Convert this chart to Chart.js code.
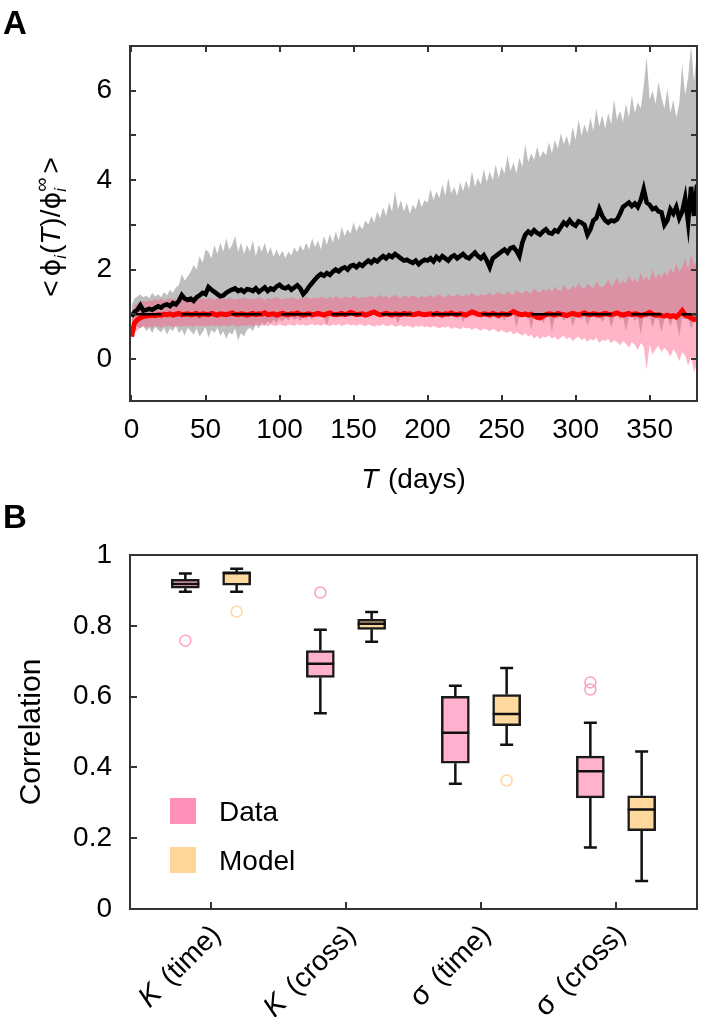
<!DOCTYPE html>
<html>
<head>
<meta charset="utf-8">
<script src="https://cdn.jsdelivr.net/npm/chart.js@4.4.1/dist/chart.umd.min.js"></script>
<style>
    html, body { margin: 0; padding: 0; background: #fff; }
    #wrap { position: relative; width: 704px; height: 1017px; overflow: hidden; }
    canvas { position: absolute; left: 0; }
    #chartA { top: 0; }
    #chartB { top: 500px; }
    .panel { position: absolute; left: 3px; font: bold 33px 'Liberation Sans', Arial, sans-serif; line-height: 33px; }
</style>
</head>
<body>
<div id="wrap">
    <canvas id="chartA" width="704" height="500"></canvas>
    <canvas id="chartB" width="704" height="517"></canvas>
    <div class="panel" style="top:6px">A</div>
    <div class="panel" style="top:500px">B</div>
</div>
<script>
'use strict';

// ---- Panel A data (sampled every 2 days) ----
const days = [
    0, 2, 4, 6, 8, 10, 12, 14, 16, 18, 20, 22, 24, 26, 28, 30, 32, 34, 36, 38,
    40, 42, 44, 46, 48, 50, 52, 54, 56, 58, 60, 62, 64, 66, 68, 70, 72, 74, 76, 78,
    80, 82, 84, 86, 88, 90, 92, 94, 96, 98, 100, 102, 104, 106, 108, 110, 112, 114, 116, 118,
    120, 122, 124, 126, 128, 130, 132, 134, 136, 138, 140, 142, 144, 146, 148, 150, 152, 154, 156, 158,
    160, 162, 164, 166, 168, 170, 172, 174, 176, 178, 180, 182, 184, 186, 188, 190, 192, 194, 196, 198,
    200, 202, 204, 206, 208, 210, 212, 214, 216, 218, 220, 222, 224, 226, 228, 230, 232, 234, 236, 238,
    240, 242, 244, 246, 248, 250, 252, 254, 256, 258, 260, 262, 264, 266, 268, 270, 272, 274, 276, 278,
    280, 282, 284, 286, 288, 290, 292, 294, 296, 298, 300, 302, 304, 306, 308, 310, 312, 314, 316, 318,
    320, 322, 324, 326, 328, 330, 332, 334, 336, 338, 340, 342, 344, 346, 348, 350, 352, 354, 356, 358,
    360, 362, 364, 366, 368, 370, 372, 374, 376, 378, 380, 382
];
const blackMean = [
    0.95, 1.05, 1.10, 1.20, 1.08, 1.10, 1.12, 1.10, 1.14, 1.18, 1.15, 1.20, 1.22, 1.18, 1.25, 1.22, 1.30, 1.43, 1.35, 1.32,
    1.35, 1.30, 1.38, 1.42, 1.48, 1.45, 1.61, 1.55, 1.50, 1.45, 1.40, 1.42, 1.48, 1.52, 1.55, 1.58, 1.52, 1.55, 1.50, 1.56,
    1.55, 1.52, 1.58, 1.50, 1.55, 1.60, 1.52, 1.58, 1.55, 1.62, 1.66, 1.60, 1.58, 1.62, 1.55, 1.60, 1.65, 1.58, 1.45, 1.52,
    1.62, 1.70, 1.78, 1.85, 1.90, 1.86, 1.92, 1.88, 1.95, 2.00, 1.96, 2.02, 2.05, 2.00, 2.08, 2.10, 2.05, 2.12, 2.08, 2.15,
    2.20, 2.15, 2.22, 2.18, 2.25, 2.30, 2.25, 2.32, 2.28, 2.35, 2.30, 2.25, 2.20, 2.22, 2.18, 2.15, 2.20, 2.12, 2.18, 2.22,
    2.20, 2.25, 2.18, 2.28, 2.22, 2.30, 2.25, 2.20, 2.28, 2.32, 2.25, 2.30, 2.35, 2.28, 2.25, 2.32, 2.38, 2.30, 2.25, 2.32,
    2.20, 2.05, 2.25, 2.30, 2.35, 2.40, 2.45, 2.38, 2.48, 2.50, 2.42, 2.30, 2.60, 2.78, 2.85, 2.80, 2.88, 2.82, 2.78, 2.85,
    2.90, 2.82, 2.80, 2.88, 2.85, 2.95, 3.05, 3.00, 3.10, 3.02, 2.98, 3.08, 3.05, 3.00, 2.78, 2.90, 3.10, 3.15, 3.36, 3.20,
    3.10, 3.05, 3.10, 3.08, 3.12, 3.25, 3.40, 3.45, 3.50, 3.42, 3.48, 3.40, 3.55, 3.80, 3.50, 3.45, 3.35, 3.38, 3.30, 3.28,
    3.00, 3.10, 3.35, 3.25, 3.40, 3.15, 3.30, 3.60, 3.05, 3.85, 3.20, 3.90
];
const grayHigh = [
    1.20, 1.35, 1.40, 1.45, 1.38, 1.42, 1.36, 1.48, 1.40, 1.45, 1.38, 1.50, 1.42, 1.55, 1.48, 1.60, 1.65, 1.90, 1.75, 1.85,
    1.95, 2.10, 2.00, 2.30, 2.15, 2.45, 2.40, 2.25, 2.55, 2.35, 2.60, 2.40, 2.70, 2.45, 2.55, 2.75, 2.40, 2.60, 2.35, 2.55,
    2.40, 2.65, 2.30, 2.55, 2.40, 2.60, 2.35, 2.50, 2.28, 2.45, 2.30, 2.42, 2.25, 2.40, 2.32, 2.50, 2.38, 2.55, 2.42, 2.60,
    2.45, 2.70, 2.50, 2.65, 2.45, 2.75, 2.55, 2.80, 2.60, 2.85, 2.65, 2.95, 2.75, 2.90, 2.80, 3.05, 2.85, 3.00, 2.90, 3.10,
    3.00, 3.20, 3.05, 3.30, 3.15, 3.40, 3.20, 3.50, 3.30, 3.75, 3.35, 3.55, 3.30, 3.50, 3.25, 3.45, 3.35, 3.60, 3.40, 3.55,
    3.50, 3.80, 3.55, 3.75, 3.60, 3.90, 3.65, 4.05, 3.70, 3.85, 3.65, 3.95, 3.75, 4.00, 3.80, 4.20, 3.85, 4.05, 3.90, 4.25,
    3.95, 4.20, 4.00, 4.35, 4.05, 4.30, 4.15, 4.55, 4.20, 4.40, 4.15, 4.50, 4.30, 4.80, 4.40, 4.60, 4.45, 4.75, 4.50, 4.65,
    4.55, 4.85, 4.60, 4.90, 4.70, 5.05, 4.80, 5.00, 4.75, 5.20, 4.90, 5.35, 5.00, 5.25, 5.05, 5.40, 5.10, 5.60, 5.20, 5.45,
    5.15, 5.50, 5.25, 5.80, 5.35, 5.55, 5.30, 5.70, 5.40, 5.90, 5.50, 5.75, 5.60, 6.10, 6.76, 5.80, 6.00, 5.70, 6.20, 5.85,
    5.60, 6.05, 5.50, 5.80, 5.40, 5.70, 6.60, 5.90, 6.30, 7.00, 6.20, 6.90
];
const grayLow = [
    0.85, 0.80, 0.72, 0.68, 0.75, 0.62, 0.70, 0.58, 0.72, 0.65, 0.60, 0.70, 0.55, 0.68, 0.62, 0.75, 0.58, 0.66, 0.52, 0.70,
    0.62, 0.55, 0.68, 0.50, 0.60, 0.72, 0.48, 0.65, 0.58, 0.70, 0.52, 0.62, 0.45, 0.60, 0.55, 0.68, 0.42, 0.58, 0.50, 0.65,
    0.70, 0.62, 0.78, 0.68, 0.82, 0.75, 0.85, 0.78, 0.88, 0.80, 0.90, 0.84, 0.92, 0.86, 0.95, 0.88, 0.92, 0.85, 0.95, 0.90,
    0.96, 0.88, 0.98, 0.92, 1.00, 0.94, 0.75, 0.98, 0.95, 1.02, 0.96, 0.92, 1.00, 0.95, 1.02, 0.98, 0.94, 1.00, 0.96, 1.03,
    0.98, 0.95, 1.02, 0.97, 0.92, 1.00, 0.96, 1.03, 0.98, 0.95, 0.80, 0.97, 1.02, 0.98, 0.94, 1.00, 0.97, 1.03, 0.96, 1.00,
    0.97, 1.02, 0.95, 1.00, 0.98, 0.93, 1.01, 0.96, 1.02, 0.98, 0.94, 1.00, 0.82, 0.97, 1.02, 0.95, 1.00, 0.96, 1.03, 0.98,
    0.95, 1.00, 0.97, 0.92, 1.01, 0.96, 0.85, 0.99, 0.94, 1.00, 0.70, 0.96, 1.01, 0.93, 0.98, 0.65, 0.95, 0.90, 0.98, 0.80,
    0.92, 0.98, 0.60, 0.95, 0.90, 0.97, 0.85, 0.94, 0.99, 0.72, 0.93, 0.97, 0.88, 0.95, 0.75, 0.92, 0.98, 0.90, 0.96, 0.82,
    0.93, 0.97, 0.70, 0.92, 0.98, 0.88, 0.95, 0.62, 0.93, 0.97, 0.85, 0.94, 0.55, 0.96, 0.90, 0.95, 0.70, 0.92, 0.88, 0.60,
    0.90, 0.95, 0.72, 0.92, 0.85, 0.50, 0.93, 0.88, 0.95, 0.65, 0.90, 0.82
];
const redMean = [
    0.50, 0.80, 0.88, 0.92, 0.95, 0.96, 0.97, 0.98, 0.97, 0.99, 0.98, 1.00, 0.99, 1.01, 0.98, 1.00, 1.02, 0.99, 1.00, 1.01,
    0.99, 1.00, 1.02, 0.98, 1.01, 1.00, 0.99, 1.02, 1.00, 0.98, 1.01, 1.00, 0.99, 1.01, 1.03, 1.00, 0.99, 1.01, 1.00, 0.98,
    1.00, 1.02, 0.99, 1.01, 1.00, 1.03, 0.99, 1.00, 1.01, 0.98, 1.00, 1.02, 1.00, 0.99, 1.01, 1.00, 1.03, 1.00, 0.98, 1.00,
    1.01, 0.99, 1.00, 1.02, 1.00, 0.98, 1.01, 1.03, 1.00, 0.99, 1.00, 1.02, 0.99, 1.01, 1.04, 1.02, 0.99, 1.00, 1.01, 0.98,
    1.00, 1.03, 1.05, 1.01, 0.99, 1.00, 1.02, 1.00, 0.98, 1.01, 1.00, 0.99, 1.02, 1.00, 1.01, 0.99, 1.00, 1.02, 1.00, 0.99,
    1.00, 1.01, 0.99, 1.02, 1.00, 0.98, 1.01, 1.00, 1.03, 1.00, 0.99, 1.01, 1.00, 0.98, 1.02, 1.05, 1.03, 1.00, 0.99, 1.01,
    1.00, 0.98, 1.02, 1.00, 0.97, 1.01, 1.00, 0.99, 1.02, 1.06, 1.03, 1.00, 0.99, 1.01, 0.98, 1.00, 0.97, 0.93, 0.92, 0.96,
    0.99, 1.01, 1.00, 0.98, 1.02, 1.00, 0.99, 0.97, 1.00, 1.02, 1.00, 0.98, 1.01, 1.03, 1.00, 0.99, 1.01, 1.00, 0.98, 1.00,
    1.02, 1.00, 0.99, 1.01, 1.03, 1.00, 0.98, 1.00, 1.02, 0.99, 1.01, 1.00, 0.97, 0.99, 1.01, 1.04, 1.00, 0.98, 0.99, 0.97,
    0.96, 0.98, 0.95, 0.97, 0.94, 1.00, 1.08, 0.98, 0.95, 0.92, 0.88, 0.90
];
const pinkHigh = [
    1.05, 1.20, 1.25, 1.28, 1.30, 1.27, 1.32, 1.30, 1.34, 1.31, 1.35, 1.30, 1.33, 1.36, 1.32, 1.35, 1.30, 1.34, 1.37, 1.33,
    1.35, 1.32, 1.38, 1.34, 1.36, 1.33, 1.37, 1.35, 1.32, 1.38, 1.34, 1.36, 1.33, 1.37, 1.35, 1.32, 1.36, 1.34, 1.38, 1.35,
    1.33, 1.36, 1.34, 1.38, 1.35, 1.32, 1.37, 1.34, 1.36, 1.39, 1.35, 1.33, 1.37, 1.34, 1.38, 1.36, 1.33, 1.37, 1.35, 1.39,
    1.36, 1.34, 1.38, 1.35, 1.40, 1.37, 1.34, 1.39, 1.36, 1.41, 1.37, 1.35, 1.40, 1.38, 1.36, 1.42, 1.38, 1.35, 1.40, 1.37,
    1.39, 1.42, 1.37, 1.40, 1.43, 1.38, 1.41, 1.36, 1.40, 1.44, 1.39, 1.37, 1.42, 1.40, 1.38, 1.43, 1.39, 1.36, 1.41, 1.38,
    1.40, 1.43, 1.38, 1.42, 1.45, 1.40, 1.37, 1.44, 1.41, 1.39, 1.46, 1.42, 1.40, 1.45, 1.41, 1.48, 1.43, 1.40, 1.46, 1.42,
    1.44, 1.48, 1.42, 1.46, 1.50, 1.45, 1.43, 1.52, 1.47, 1.44, 1.55, 1.48, 1.46, 1.53, 1.50, 1.47, 1.58, 1.51, 1.48, 1.56,
    1.52, 1.58, 1.50, 1.62, 1.55, 1.52, 1.66, 1.57, 1.54, 1.63, 1.58, 1.70, 1.60, 1.56, 1.68, 1.62, 1.58, 1.74, 1.64, 1.60,
    1.66, 1.78, 1.62, 1.70, 1.82, 1.66, 1.75, 1.68, 1.88, 1.72, 1.80, 1.70, 1.92, 1.76, 1.85, 1.74, 2.00, 1.80, 1.90, 1.82,
    1.95, 1.85, 2.05, 1.90, 2.15, 1.95, 2.05, 2.25, 2.00, 2.35, 2.10, 2.20
];
const pinkLow = [
    0.45, 0.58, 0.65, 0.70, 0.72, 0.70, 0.73, 0.71, 0.74, 0.72, 0.70, 0.74, 0.72, 0.75, 0.71, 0.73, 0.74, 0.72, 0.75, 0.73,
    0.74, 0.72, 0.76, 0.73, 0.75, 0.72, 0.74, 0.76, 0.73, 0.75, 0.72, 0.76, 0.74, 0.73, 0.77, 0.74, 0.72, 0.76, 0.74, 0.75,
    0.76, 0.73, 0.75, 0.77, 0.74, 0.76, 0.73, 0.77, 0.75, 0.74, 0.78, 0.75, 0.73, 0.77, 0.76, 0.74, 0.78, 0.75, 0.77, 0.74,
    0.76, 0.78, 0.75, 0.77, 0.74, 0.78, 0.76, 0.73, 0.77, 0.75, 0.78, 0.74, 0.76, 0.79, 0.75, 0.77, 0.74, 0.78, 0.76, 0.73,
    0.77, 0.75, 0.72, 0.76, 0.74, 0.78, 0.73, 0.75, 0.77, 0.72, 0.74, 0.76, 0.71, 0.75, 0.73, 0.70, 0.74, 0.72, 0.75, 0.71,
    0.73, 0.70, 0.74, 0.71, 0.68, 0.72, 0.70, 0.73, 0.67, 0.71, 0.69, 0.66, 0.72, 0.68, 0.70, 0.65, 0.69, 0.67, 0.63, 0.68,
    0.66, 0.62, 0.67, 0.64, 0.60, 0.65, 0.61, 0.58, 0.63, 0.55, 0.60, 0.57, 0.52, 0.58, 0.50, 0.55, 0.46, 0.52, 0.44, 0.50,
    0.48, 0.53, 0.45, 0.50, 0.42, 0.48, 0.52, 0.44, 0.49, 0.40, 0.46, 0.50, 0.42, 0.47, 0.38, 0.45, 0.41, 0.48, 0.36, 0.43,
    0.40, 0.45, 0.35, 0.42, 0.38, 0.30, 0.40, 0.34, 0.25, 0.38, 0.32, 0.20, 0.36, 0.28, -0.25, 0.32, 0.10, 0.22, 0.30, 0.15,
    0.25, 0.18, 0.05, 0.22, 0.12, -0.05, 0.15, 0.08, -0.15, 0.05, -0.30, -0.10
];
const refDays = [0, 382];
const refLevel = [1, 1];

const xTicksA = [0, 50, 100, 150, 200, 250, 300, 350];
const xTickLabelsA = ['0', '50', '100', '150', '200', '250', '300', '350'];
const yTicksA = [0, 2, 4, 6];
const yTickLabelsA = ['0', '2', '4', '6'];
const yMarksA = [0, 1, 2, 3, 4, 5, 6];

// ---- Panel B data (box plot summaries) ----
const catSymbols = ['K', 'K', 'σ', 'σ'];
const catKinds = ['(time)', '(cross)', '(time)', '(cross)'];
const seriesNames = ['Data', 'Model'];

const dataMin = [0.896, 0.553, 0.354, 0.174];
const dataQ1 = [0.906, 0.654, 0.412, 0.314];
const dataMed = [0.918, 0.693, 0.498, 0.389];
const dataQ3 = [0.931, 0.730, 0.601, 0.432];
const dataMax = [0.948, 0.789, 0.631, 0.526];
const dataOutliers = [[0.758], [0.894], [], [0.640, 0.620]];

const modelMin = [0.896, 0.755, 0.464, 0.079];
const modelQ1 = [0.915, 0.790, 0.518, 0.221];
const modelMed = [0.950, 0.806, 0.551, 0.281];
const modelQ3 = [0.951, 0.818, 0.606, 0.320];
const modelMax = [0.961, 0.839, 0.681, 0.445];
const modelOutliers = [[0.840], [], [0.363], []];

const yTicksB = [0, 0.2, 0.4, 0.6, 0.8, 1];
const yTickLabelsB = ['0', '0.2', '0.4', '0.6', '0.8', '1'];

// ---- styling ----
const FONT = "'Liberation Sans', Arial, Helvetica, sans-serif";
const FS = 28;
const PINK_BOX = '#ffb1ce', PINK_KEY = '#ff91b9', PINK_RING = '#ff9ec2';
const ORANGE_BOX = '#ffd89e', ORANGE_KEY = '#ffd699', ORANGE_RING = '#ffd89e';

const pts = (xs, ys) => xs.map((x, i) => ({ x: x, y: ys[i] }));

function fontOf(p) {
    return (p.italic ? 'italic ' : '') + (p.size || FS) + 'px ' + (p.family || FONT);
}

// draws a row of text pieces on the alphabetic baseline
function drawRich(ctx, parts, x, y, align) {
    let total = 0;
    parts.forEach(p => {
        ctx.font = fontOf(p);
        p.w = p.t ? ctx.measureText(p.t).width : 0;
        p.adv = (p.advance !== undefined) ? p.advance : p.w + (p.gap || 0);
        total += p.adv;
    });
    let cx = align === 'center' ? x - total / 2 : (align === 'right' ? x - total : x);
    ctx.textAlign = 'left';
    ctx.textBaseline = 'alphabetic';
    parts.forEach(p => {
        if (p.t) {
            ctx.font = fontOf(p);
            ctx.fillText(p.t, cx, y + (p.dy || 0));
        }
        cx += p.adv;
    });
}

function hideGrid() {
    return { display: false, drawTicks: false };
}

// ---- Panel A ----
const frameA = {
    id: 'frameA',
    afterDraw(chart) {
        const { ctx, chartArea: a, scales: { x, y } } = chart;
        ctx.save();
        ctx.strokeStyle = '#333';
        ctx.lineWidth = 2;
        ctx.strokeRect(a.left, a.top, a.right - a.left, a.bottom - a.top);
        ctx.beginPath();
        xTicksA.forEach(v => {
            const px = Math.round(x.getPixelForValue(v));
            ctx.moveTo(px, a.bottom); ctx.lineTo(px, a.bottom - 6);
            ctx.moveTo(px, a.top); ctx.lineTo(px, a.top + 6);
        });
        yMarksA.forEach(v => {
            const py = Math.round(y.getPixelForValue(v));
            ctx.moveTo(a.left, py); ctx.lineTo(a.left + 6, py);
            ctx.moveTo(a.right, py); ctx.lineTo(a.right - 6, py);
        });
        ctx.stroke();

        ctx.fillStyle = '#000';
        // x title
        drawRich(ctx, [
            { t: 'T', italic: true, gap: 2 },
            { t: ' (days)' }
        ], (a.left + a.right) / 2, 488, 'center');

        // y title, rotated
        ctx.translate(50, 227);
        ctx.rotate(-Math.PI / 2);
        const PHI_FONT = "'DejaVu Sans', " + FONT;
        drawRich(ctx, [
            { t: '<', gap: 4 },
            { t: 'ϕ', size: 27, family: PHI_FONT, gap: 0 },
            { t: 'i', italic: true, size: 16, dy: 6, gap: 1 },
            { t: '(' },
            { t: 'T', italic: true, gap: 1 },
            { t: ')/' },
            { t: 'ϕ', size: 27, family: PHI_FONT },
            { t: 'i', italic: true, size: 16, dy: 6, advance: 0 },
            { t: '∞', size: 20, dy: -12, gap: 4 },
            { t: '>' }
        ], 0, 10, 'center');
        ctx.restore();
    }
};

new Chart(document.getElementById('chartA'), {
    type: 'line',
    data: {
        datasets: [
            { data: pts(refDays, refLevel), borderColor: '#000', borderWidth: 2.5, borderDash: [30, 20], fill: false },
            { data: pts(days, redMean), borderColor: '#ff0000', borderWidth: 5, fill: false },
            { data: pts(days, blackMean), borderColor: '#000', borderWidth: 4.5, fill: false },
            { data: pts(days, pinkHigh), borderWidth: 0, borderColor: 'rgba(0,0,0,0)', backgroundColor: 'rgba(255, 88, 133, 0.45)', fill: '+1' },
            { data: pts(days, pinkLow), borderWidth: 0, borderColor: 'rgba(0,0,0,0)', fill: false },
            { data: pts(days, grayHigh), borderWidth: 0, borderColor: 'rgba(0,0,0,0)', backgroundColor: '#bebebe', fill: '+1' },
            { data: pts(days, grayLow), borderWidth: 0, borderColor: 'rgba(0,0,0,0)', fill: false }
        ]
    },
    options: {
        responsive: false,
        animation: false,
        events: [],
        layout: { padding: { left: 0, right: 7, top: 46, bottom: 0 } },
        elements: { point: { radius: 0, hitRadius: 0 }, line: { tension: 0 } },
        plugins: { legend: { display: false }, tooltip: { enabled: false } },
        scales: {
            x: {
                type: 'linear', min: -1, max: 382,
                grid: hideGrid(), border: { display: false },
                afterBuildTicks: s => { s.ticks = xTicksA.map(v => ({ value: v })); },
                ticks: {
                    callback: (v, i) => xTickLabelsA[i],
                    font: { family: FONT, size: FS }, color: '#000', padding: 12, maxRotation: 0, autoSkip: false
                },
                afterFit: s => { s.height = 99; }
            },
            y: {
                min: -0.94, max: 7,
                grid: hideGrid(), border: { display: false },
                afterBuildTicks: s => { s.ticks = yTicksA.map(v => ({ value: v })); },
                ticks: {
                    callback: (v, i) => yTickLabelsA[i],
                    font: { family: FONT, size: FS }, color: '#000', padding: 18
                },
                afterFit: s => { s.width = 130; }
            }
        }
    },
    plugins: [frameA]
});

// ---- Panel B ----
const SHIFT = 0.19;     // offset of each series from the category position
const CAP_HALF = 0.048; // half width of whisker caps
const BOX_HALF = 0.103; // half width of median segment (box is 28px)

function whiskers(mins, q1s, q3s, maxs, shift) {
    const out = [];
    mins.forEach((mn, i) => {
        const c = i + 1 + shift;
        out.push(
            { x: c - CAP_HALF, y: maxs[i] }, { x: c + CAP_HALF, y: maxs[i] }, { x: c, y: null },
            { x: c, y: maxs[i] }, { x: c, y: q3s[i] }, { x: c, y: null },
            { x: c, y: q1s[i] }, { x: c, y: mn }, { x: c, y: null },
            { x: c - CAP_HALF, y: mn }, { x: c + CAP_HALF, y: mn }, { x: c, y: null }
        );
    });
    return out;
}
function medians(meds, shift) {
    const out = [];
    meds.forEach((m, i) => {
        const c = i + 1 + shift;
        out.push({ x: c - BOX_HALF, y: m }, { x: c + BOX_HALF, y: m }, { x: c, y: null });
    });
    return out;
}
function boxes(q1s, q3s, shift) {
    return q1s.map((q1, i) => ({ x: i + 1 + shift, y: [q1, q3s[i]] }));
}
function outliers(lists, shift) {
    const out = [];
    lists.forEach((arr, i) => arr.forEach(v => out.push({ x: i + 1 + shift, y: v })));
    return out;
}

const lineStyle = { type: 'line', borderColor: '#111', borderWidth: 2.5, fill: false, pointRadius: 0, spanGaps: false };
const boxStyle = { type: 'bar', borderColor: '#1a1a1a', borderWidth: 2.5, borderSkipped: false, barThickness: 28, grouped: false };
const ringStyle = { type: 'scatter', pointRadius: 5.5, pointBorderWidth: 1.5, pointBackgroundColor: 'rgba(0,0,0,0)' };

const frameB = {
    id: 'frameB',
    afterDraw(chart) {
        const { ctx, chartArea: a, scales: { x, y } } = chart;
        ctx.save();
        ctx.strokeStyle = '#333';
        ctx.lineWidth = 2;
        ctx.strokeRect(a.left, a.top, a.right - a.left, a.bottom - a.top);
        ctx.beginPath();
        catSymbols.forEach((s, i) => {
            const px = Math.round(x.getPixelForValue(i + 1));
            ctx.moveTo(px, a.bottom); ctx.lineTo(px, a.bottom - 7);
        });
        yTicksB.forEach(v => {
            const py = Math.round(y.getPixelForValue(v));
            ctx.moveTo(a.left, py); ctx.lineTo(a.left + 7, py);
        });
        ctx.stroke();

        // rotated category labels
        ctx.fillStyle = '#000';
        catSymbols.forEach((s, i) => {
            const px = x.getPixelForValue(i + 1);
            ctx.save();
            ctx.translate(px + 4, a.bottom + 20);
            ctx.rotate(-Math.PI / 4);
            drawRich(ctx, [
                { t: s, italic: s === 'K', size: 29, gap: 4 },
                { t: ' ' + catKinds[i] }
            ], 0, 10, 'right');
            ctx.restore();
        });

        // legend
        const keys = [PINK_KEY, ORANGE_KEY];
        seriesNames.forEach((name, i) => {
            const top = 298 + i * 49;
            ctx.fillStyle = keys[i];
            ctx.fillRect(170, top, 26, 26);
            ctx.fillStyle = '#000';
            drawRich(ctx, [{ t: name }], 219, top + 23, 'left');
        });
        ctx.restore();
    }
};

new Chart(document.getElementById('chartB'), {
    type: 'bar',
    data: {
        datasets: [
            Object.assign({ data: medians(dataMed, -SHIFT) }, lineStyle),
            Object.assign({ data: medians(modelMed, SHIFT) }, lineStyle),
            Object.assign({ data: boxes(dataQ1, dataQ3, -SHIFT), backgroundColor: PINK_BOX }, boxStyle),
            Object.assign({ data: boxes(modelQ1, modelQ3, SHIFT), backgroundColor: ORANGE_BOX }, boxStyle),
            Object.assign({ data: whiskers(dataMin, dataQ1, dataQ3, dataMax, -SHIFT) }, lineStyle),
            Object.assign({ data: whiskers(modelMin, modelQ1, modelQ3, modelMax, SHIFT) }, lineStyle),
            Object.assign({ data: outliers(dataOutliers, -SHIFT), pointBorderColor: PINK_RING }, ringStyle),
            Object.assign({ data: outliers(modelOutliers, SHIFT), pointBorderColor: ORANGE_RING }, ringStyle)
        ]
    },
    options: {
        responsive: false,
        animation: false,
        events: [],
        layout: { padding: { left: 0, right: 4, top: 55, bottom: 0 } },
        plugins: { legend: { display: false }, tooltip: { enabled: false } },
        scales: {
            x: {
                type: 'linear', min: 0.4, max: 4.6, offset: false,
                grid: hideGrid(), border: { display: false },
                ticks: { display: false },
                afterFit: s => { s.height = 108; }
            },
            y: {
                min: 0, max: 1,
                grid: hideGrid(), border: { display: false },
                afterBuildTicks: s => { s.ticks = yTicksB.map(v => ({ value: v })); },
                ticks: {
                    callback: (v, i) => yTickLabelsB[i],
                    font: { family: FONT, size: FS }, color: '#000', padding: 18
                },
                title: {
                    display: true, text: 'Correlation', color: '#000',
                    font: { family: FONT, size: 30 }, padding: { top: 14, bottom: 0 }
                },
                afterFit: s => { s.width = 130; }
            }
        }
    },
    plugins: [frameB]
});
</script>
</body>
</html>
